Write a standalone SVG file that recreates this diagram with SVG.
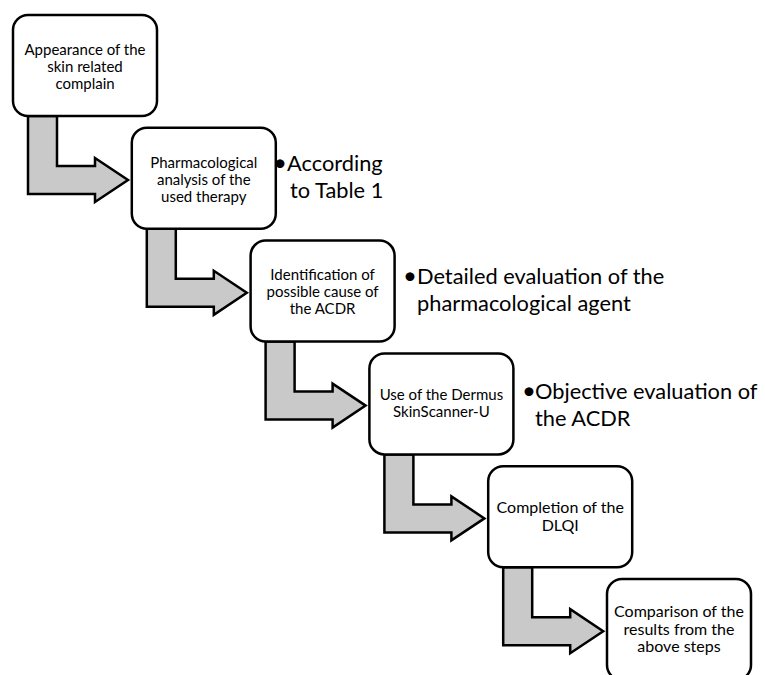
<svg xmlns="http://www.w3.org/2000/svg" width="765" height="675" viewBox="0 0 765 675">
<style>
.box{fill:#fff;stroke:#000;stroke-width:2.5}
.arr{fill:#c9c9c9;stroke:#000;stroke-width:2.5;stroke-linejoin:miter}
.bt{font-family:Lato,"Liberation Sans",sans-serif;font-size:15px;fill:#000;text-anchor:middle}
.bt2{font-size:16px}
.note{font-family:Lato,"Liberation Sans",sans-serif;font-size:21.8px;fill:#000}
.dot{text-anchor:middle;font-size:24px}
</style>
<rect width="765" height="675" fill="#fff"/>
<g id="connectors">
<path class="arr" d="M28,116 L28,194 L95,194 L95,202 L128,180 L95,158 L95,166 L57,166 L57,116 Z"/>
<path class="arr" d="M146.8,228.8 L146.8,306.8 L213.8,306.8 L213.8,314.8 L246.8,292.8 L213.8,270.8 L213.8,278.8 L175.8,278.8 L175.8,228.8 Z"/>
<path class="arr" d="M265.6,341.6 L265.6,419.6 L332.6,419.6 L332.6,427.6 L365.6,405.6 L332.6,383.6 L332.6,391.6 L294.6,391.6 L294.6,341.6 Z"/>
<path class="arr" d="M384.4,454.4 L384.4,532.4 L451.4,532.4 L451.4,540.4 L484.4,518.4 L451.4,496.4 L451.4,504.4 L413.4,504.4 L413.4,454.4 Z"/>
<path class="arr" d="M503.2,567.2 L503.2,645.2 L570.2,645.2 L570.2,653.2 L603.2,631.2 L570.2,609.2 L570.2,617.2 L532.2,617.2 L532.2,567.2 Z"/>
</g>
<g id="n1">
<rect class="box" x="13" y="15" width="144" height="101" rx="15"/>
<text class="bt"><tspan x="85" y="55">Appearance of the</tspan><tspan x="85" y="72">skin related</tspan><tspan x="85" y="89">complain</tspan></text>
</g>
<g id="n2">
<rect class="box" x="131.8" y="127.8" width="144" height="101" rx="15"/>
<text class="bt"><tspan x="203.8" y="167.5">Pharmacological</tspan><tspan x="203.8" y="184.5">analysis of the</tspan><tspan x="203.8" y="201.5">used therapy</tspan></text>
</g>
<g id="n3">
<rect class="box" x="250.6" y="240.6" width="144" height="101" rx="15"/>
<text class="bt"><tspan x="322.6" y="279.5">Identification of</tspan><tspan x="322.6" y="296.5">possible cause of</tspan><tspan x="322.6" y="313.5">the ACDR</tspan></text>
</g>
<g id="n4">
<rect class="box" x="369.4" y="353.4" width="144" height="101" rx="15"/>
<text class="bt"><tspan x="441.4" y="400">Use of the Dermus</tspan><tspan x="441.4" y="417">SkinScanner-U</tspan></text>
</g>
<g id="n5">
<rect class="box" x="488.2" y="466.2" width="144" height="101" rx="15"/>
<text class="bt bt2"><tspan x="560.2" y="513">Completion of the</tspan><tspan x="560.2" y="531">DLQI</tspan></text>
</g>
<g id="n6">
<rect class="box" x="607" y="579" width="144" height="101" rx="15"/>
<text class="bt bt2"><tspan x="679" y="617">Comparison of the</tspan><tspan x="679" y="634.5">results from the</tspan><tspan x="679" y="652">above steps</tspan></text>
</g>
<g id="note2">
<text class="note dot" x="280" y="171">•</text>
<text class="note"><tspan x="287" y="171">According</tspan><tspan x="290" y="198">to Table 1</tspan></text>
</g>
<g id="note3">
<text class="note dot" x="410" y="284">•</text>
<text class="note"><tspan x="417" y="284">Detailed evaluation of the</tspan><tspan x="417" y="311">pharmacological agent</tspan></text>
</g>
<g id="note4">
<text class="note dot" x="529" y="399">•</text>
<text class="note"><tspan x="535" y="399">Objective evaluation of</tspan><tspan x="535" y="426">the ACDR</tspan></text>
</g>
</svg>
